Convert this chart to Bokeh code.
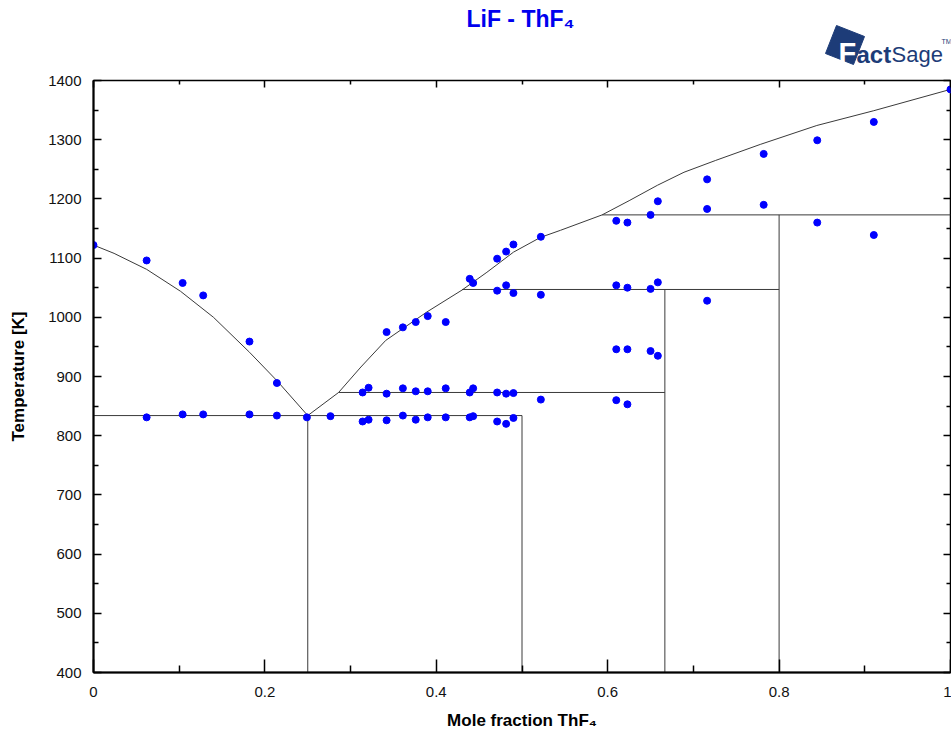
from bokeh.plotting import figure
from bokeh.layouts import column
from bokeh.models import Range1d, LinearAxis, FixedTicker, CustomJSTickFormatter
from bokeh.core.properties import value
from bokeh.embed import file_html
from bokeh.resources import INLINE

# ---------------- data ----------------
# liquidus, LiF-rich branch (x = mole fraction ThF4, T in K)
liq_lif_x = [0.0, 0.024, 0.062, 0.1015, 0.140, 0.182, 0.214, 0.250]
liq_lif_T = [1122, 1108, 1081, 1044, 1000, 941, 893, 834]

# liquidus, ThF4-rich branch
liq_thf_x = [0.250, 0.286, 0.312, 0.341, 0.389, 0.430, 0.459, 0.490, 0.5216,
             0.545, 0.5935, 0.625, 0.658, 0.689, 0.726, 0.778, 0.844, 0.9105, 1.0]
liq_thf_T = [834, 873, 916, 961, 1009, 1046, 1076, 1110, 1135,
             1147, 1173, 1197, 1223, 1245, 1265, 1292, 1324, 1349, 1385]

# invariant (horizontal) lines
inv_T = [834, 873, 1047, 1173]
inv_x_start = [0.0, 0.286, 0.430, 0.5935]
inv_x_end = [0.5, 0.6667, 0.8, 1.0]

# compounds (vertical lines)
comp_x = [0.25, 0.5, 0.6667, 0.8]
comp_T_top = [834, 834, 1047, 1173]
comp_T_bottom = [400, 400, 400, 400]

# experimental points
exp_x = [0.0, 0.062, 0.104, 0.128, 0.182, 0.214, 0.249,
         0.062, 0.104, 0.128, 0.182, 0.214, 0.2765,
         0.314, 0.321, 0.342, 0.361, 0.376, 0.390, 0.411, 0.439, 0.443, 0.471, 0.4815, 0.490,
         0.314, 0.321, 0.342, 0.361, 0.376, 0.390, 0.411, 0.439, 0.443, 0.471, 0.4815, 0.490, 0.522,
         0.342, 0.361, 0.376, 0.390, 0.411, 0.439, 0.443, 0.471, 0.4815, 0.490, 0.522,
         0.471, 0.4815, 0.490, 0.522,
         0.610, 0.623, 0.650, 0.6585, 0.716, 0.716, 0.782, 0.782, 0.8445, 0.8445, 0.9105, 0.9105, 1.0,
         0.610, 0.623, 0.650, 0.6585, 0.716,
         0.610, 0.623, 0.650, 0.6585,
         0.610, 0.623]
exp_T = [1122, 1096, 1058, 1037, 959, 889, 831,
         831, 836, 836, 836, 834, 833,
         824, 827, 826, 834, 827, 831, 831, 831, 833, 824, 820, 830,
         873, 881, 871, 880, 875, 875, 880, 873, 880, 873, 871, 872, 861,
         975, 983, 992, 1002, 992, 1065, 1058, 1099, 1111, 1123, 1136,
         1045, 1054, 1041, 1038,
         1163, 1160, 1173, 1196, 1233, 1183, 1190, 1276, 1299, 1160, 1330, 1139, 1385,
         1054, 1050, 1048, 1059, 1028,
         946, 946, 943, 935,
         860, 853]

x_tick_values = [0.0, 0.2, 0.4, 0.6, 0.8, 1.0]
x_tick_labels = ["0", "0.2", "0.4", "0.6", "0.8", "1"]
x_minor_values = [0.1, 0.3, 0.5, 0.7, 0.9]
y_tick_values = [400, 500, 600, 700, 800, 900, 1000, 1100, 1200, 1300, 1400]
y_minor_values = [450, 550, 650, 750, 850, 950, 1050, 1150, 1250, 1350]

title_text = "LiF - ThF₄"
logo_parts = ["F", "act", "Sage", "TM"]

FONT = "Liberation Sans"
W, H = 951, 734
HEAD_H = 70
BL, BR = 93, 1  # left / right borders, shared by header and chart

# ---------------- header (title + logo), pixel coordinates ----------------
head = figure(width=W, height=HEAD_H, x_range=Range1d(BL, W - BR), y_range=Range1d(HEAD_H, 0),
              output_backend="svg", toolbar_location=None, title=None,
              x_axis_location=None, y_axis_location=None,
              min_border_left=BL, min_border_right=BR, min_border_top=0, min_border_bottom=0)
head.xgrid.visible = False
head.ygrid.visible = False
head.outline_line_color = None
head.background_fill_color = "white"
head.border_fill_color = "white"

head.text(x=[520], y=[18], text=[title_text], text_font=value(FONT), text_font_style="bold",
          text_font_size="23px", text_color="#0000ee", text_align="center",
          text_baseline="middle")

NAVY = "#1d3c78"
head.patch(x=[836, 864, 853, 825], y=[25, 36, 64, 53], fill_color=NAVY, line_color=NAVY)
head.text(x=[838], y=[52], text=[logo_parts[0]], text_font=value(FONT), text_font_style="bold",
          text_font_size="29px", text_color="white", text_align="left",
          text_baseline="middle")
head.text(x=[856], y=[54], text=[logo_parts[1]], text_font=value(FONT), text_font_style="bold",
          text_font_size="24px", text_color=NAVY, text_align="left", text_baseline="middle")
head.text(x=[891], y=[54], text=[logo_parts[2]], text_font=value(FONT),
          text_font_size="22px", text_color=NAVY, text_align="left", text_baseline="middle")
head.text(x=[941], y=[41], text=[logo_parts[3]], text_font=value(FONT),
          text_font_size="7px", text_color=NAVY, text_align="left", text_baseline="middle")

# ---------------- main chart ----------------
p = figure(width=W, height=H - HEAD_H, x_range=Range1d(0, 1), y_range=Range1d(400, 1400),
           output_backend="svg", toolbar_location=None, title=None,
           min_border_left=BL, min_border_right=BR, min_border_top=10, min_border_bottom=62)
p.xgrid.visible = False
p.ygrid.visible = False
p.outline_line_color = "black"
p.outline_line_width = 1.5
p.background_fill_color = "white"
p.border_fill_color = "white"

xa = p.xaxis[0]
xa.ticker = FixedTicker(ticks=x_tick_values, minor_ticks=x_minor_values)
xa.major_label_overrides = {v: s for v, s in zip(x_tick_values, x_tick_labels)}
ya = p.yaxis[0]
ya.ticker = FixedTicker(ticks=y_tick_values, minor_ticks=y_minor_values)

for ax in (xa, ya):
    ax.axis_line_width = 2
    ax.axis_line_color = "black"
    ax.major_tick_out = 0
    ax.minor_tick_out = 0
    ax.major_tick_line_width = 1.5
    ax.minor_tick_line_width = 1.5
    ax.major_label_text_font = FONT
    ax.major_label_text_font_size = "15px"
    ax.major_label_text_color = "#111111"
    ax.axis_label_text_font = FONT
    ax.axis_label_text_font_style = "bold"
    ax.axis_label_text_font_size = "17px"
    ax.axis_label_text_color = "black"

xa.axis_label = "Mole fraction ThF₄"
xa.major_tick_in = 13
xa.minor_tick_in = 7
xa.major_label_standoff = 14
xa.axis_label_standoff = 11

ya.axis_label = "Temperature [K]"
ya.major_tick_in = 8
ya.minor_tick_in = 5
ya.major_label_standoff = 12
ya.axis_label_standoff = 17

blank = CustomJSTickFormatter(code="return ''")
top = LinearAxis(ticker=FixedTicker(ticks=x_tick_values, minor_ticks=x_minor_values),
                 formatter=blank, major_label_standoff=0,
                 major_tick_in=7, major_tick_out=0, minor_tick_in=4, minor_tick_out=0,
                 major_tick_line_width=1.5, minor_tick_line_width=1.5, axis_line_color=None)
right = LinearAxis(ticker=FixedTicker(ticks=y_tick_values, minor_ticks=y_minor_values),
                   formatter=blank, major_label_standoff=0,
                   major_tick_in=7, major_tick_out=0, minor_tick_in=4, minor_tick_out=0,
                   major_tick_line_width=1.5, minor_tick_line_width=1.5, axis_line_color=None)
p.add_layout(top, "above")
p.add_layout(right, "right")

LINE_COLOR = "#3a3a3a"
p.line(liq_lif_x, liq_lif_T, line_color=LINE_COLOR, line_width=1)
p.line(liq_thf_x, liq_thf_T, line_color=LINE_COLOR, line_width=1)
p.segment(x0=inv_x_start, y0=inv_T, x1=inv_x_end, y1=inv_T, line_color=LINE_COLOR, line_width=1)
p.segment(x0=comp_x, y0=comp_T_bottom, x1=comp_x, y1=comp_T_top, line_color=LINE_COLOR, line_width=1)

p.scatter(exp_x, exp_T, marker="circle", size=7, fill_color="#0000ff", line_color="#0000ff")

layout = column(head, p, spacing=0)
open("out.html", "w").write(file_html(layout, INLINE))
